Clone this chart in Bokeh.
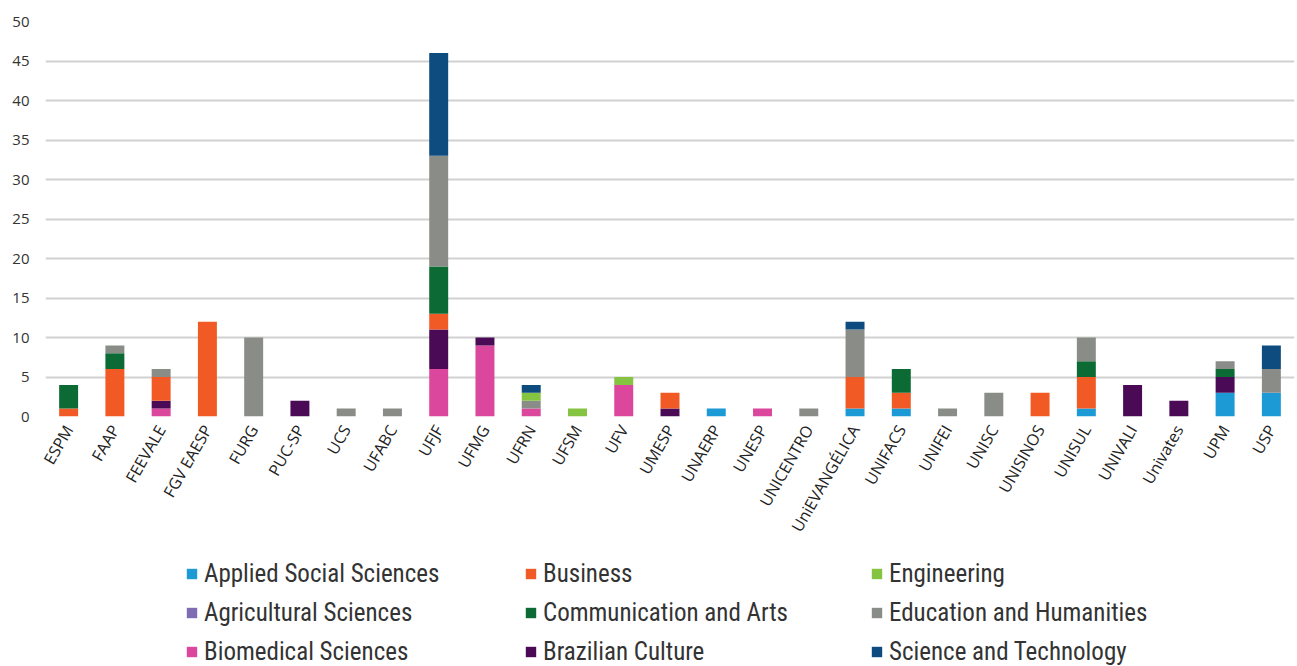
import math
from bokeh.plotting import figure
from bokeh.models import FactorRange, FixedTicker, Legend, LegendItem, Range1d
from bokeh.layouts import column
from bokeh.embed import file_html
from bokeh.resources import INLINE

universities = ["ESPM", "FAAP", "FEEVALE", "FGV EAESP", "FURG", "PUC-SP", "UCS", "UFABC",
                "UFJF", "UFMG", "UFRN", "UFSM", "UFV", "UMESP", "UNAERP", "UNESP",
                "UNICENTRO", "UniEVANGÉLICA", "UNIFACS", "UNIFEI", "UNISC", "UNISINOS",
                "UNISUL", "UNIVALI", "Univates", "UPM", "USP"]

applied_social = [0, 0, 0, 0, 0, 0, 0, 0, 0, 0, 0, 0, 0, 0, 1, 0, 0, 1, 1, 0, 0, 0, 1, 0, 0, 3, 3]
agricultural = [0] * 27
biomedical = [0, 0, 1, 0, 0, 0, 0, 0, 6, 9, 1, 0, 4, 0, 0, 1, 0, 0, 0, 0, 0, 0, 0, 0, 0, 0, 0]
brazilian = [0, 0, 1, 0, 0, 2, 0, 0, 5, 1, 0, 0, 0, 1, 0, 0, 0, 0, 0, 0, 0, 0, 0, 4, 2, 2, 0]
business = [1, 6, 3, 12, 0, 0, 0, 0, 2, 0, 0, 0, 0, 2, 0, 0, 0, 4, 2, 0, 0, 3, 4, 0, 0, 0, 0]
communication = [3, 2, 0, 0, 0, 0, 0, 0, 6, 0, 0, 0, 0, 0, 0, 0, 0, 0, 3, 0, 0, 0, 2, 0, 0, 1, 0]
education = [0, 1, 1, 0, 10, 0, 1, 1, 14, 0, 1, 0, 0, 0, 0, 0, 1, 6, 0, 1, 3, 0, 3, 0, 0, 1, 3]
engineering = [0, 0, 0, 0, 0, 0, 0, 0, 0, 0, 1, 1, 1, 0, 0, 0, 0, 0, 0, 0, 0, 0, 0, 0, 0, 0, 0]
science_tech = [0, 0, 0, 0, 0, 0, 0, 0, 13, 0, 1, 0, 0, 0, 0, 0, 0, 1, 0, 0, 0, 0, 0, 0, 0, 0, 3]

series_names = ["Applied Social Sciences", "Agricultural Sciences", "Biomedical Sciences",
                "Brazilian Culture", "Business", "Communication and Arts",
                "Education and Humanities", "Engineering", "Science and Technology"]
series_keys = ["applied", "agri", "bio", "braz", "bus", "comm", "edu", "eng", "sci"]
series_values = [applied_social, agricultural, biomedical, brazilian, business,
                 communication, education, engineering, science_tech]
colors = ["#1B9AD6", "#7E6DB3", "#DB479C", "#4A0A56", "#F15A24", "#0C6B35",
          "#8A8D87", "#84C441", "#0E4C80"]

y_ticks = [0, 5, 10, 15, 20, 25, 30, 35, 40, 45, 50]

data = {"uni": universities}
for k, v in zip(series_keys, series_values):
    data[k] = v

p = figure(width=1297, height=545, x_range=FactorRange(*universities, range_padding=0),
           y_range=Range1d(0, 50), toolbar_location=None, output_backend="svg",
           min_border_left=45, min_border_right=3, min_border_top=21, min_border_bottom=129)
p.outline_line_color = None
p.background_fill_color = "white"
p.border_fill_color = "white"

p.vbar_stack(series_keys, x="uni", width=0.41, source=data, color=colors, line_color=None)

p.xgrid.visible = False
p.ygrid.grid_line_color = "#D1D1D1"
p.ygrid.grid_line_width = 2
p.yaxis.ticker = FixedTicker(ticks=y_ticks)
p.yaxis.axis_line_color = None
p.yaxis.major_tick_line_color = None
p.yaxis.minor_tick_line_color = None
p.yaxis.major_tick_out = 6
p.yaxis.major_label_standoff = 10
p.yaxis.major_label_text_font = "Open Sans"
p.yaxis.major_label_text_font_size = "15px"
p.yaxis.major_label_text_color = "#333333"

p.xaxis.axis_line_color = None
p.xaxis.major_tick_line_color = None
p.xaxis.minor_tick_line_color = None
p.xaxis.major_tick_out = 0
p.xaxis.major_label_orientation = 1.05
p.xaxis.major_label_standoff = 10
p.xaxis.major_label_text_font = "Open Sans"
p.xaxis.major_label_text_font_size = "16px"
p.xaxis.major_label_text_color = "#222222"

# Legend figure
lg = figure(width=1297, height=121, x_range=Range1d(0, 1), y_range=Range1d(0, 1),
            toolbar_location=None, output_backend="svg", min_border=0)
lg.axis.visible = False
lg.grid.visible = False
lg.outline_line_color = None

renderers = {}
for name, c in zip(series_names, colors):
    renderers[name] = lg.vbar(x=[-10], top=[-10], width=0.1, fill_color=c, line_color=None)

columns_layout = [
    ["Applied Social Sciences", "Agricultural Sciences", "Biomedical Sciences"],
    ["Business", "Communication and Arts", "Brazilian Culture"],
    ["Engineering", "Education and Humanities", "Science and Technology"],
]
col_x = [140, 479, 825]
for names, x in zip(columns_layout, col_x):
    leg = Legend(items=[LegendItem(label=n, renderers=[renderers[n]]) for n in names],
                 location=(x, 0), orientation="vertical", padding=0, margin=0,
                 spacing=10, glyph_width=13, glyph_height=13, label_height=20,
                 label_standoff=6, border_line_color=None, background_fill_alpha=0,
                 label_text_font="'Liberation Sans Narrow', 'Roboto Condensed', Roboto",
                 label_text_font_size="25px",
                 label_text_color="#333333")
    lg.add_layout(leg, "center")

layout = column(p, lg, spacing=0)
open("out.html", "w").write(file_html(layout, INLINE))
